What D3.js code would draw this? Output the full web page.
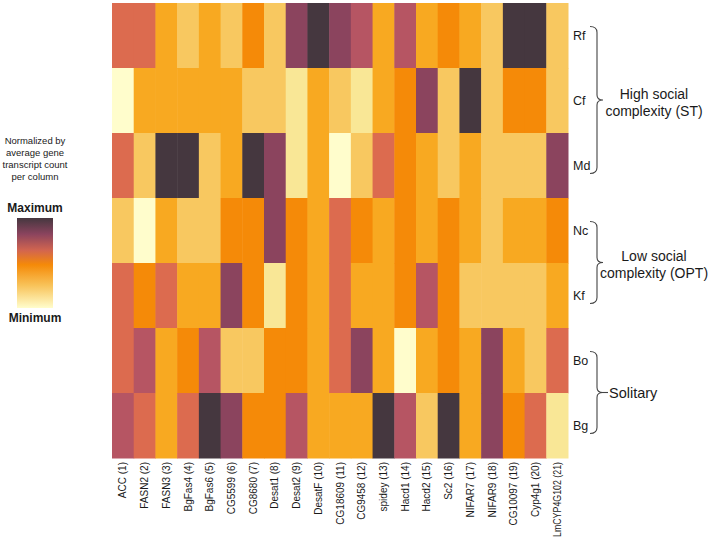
<!DOCTYPE html>
<html>
<head>
<meta charset="utf-8">
<script src="https://cdn.jsdelivr.net/npm/d3@7"></script>
<style>
  body { margin: 0; background: #fff; }
  svg { font-family: "Liberation Sans", Arial, sans-serif; }
</style>
</head>
<body>
<svg id="chart"></svg>
<script>
// genes along the bottom, species down the side
const genes = ["ACC (1)", "FASN2 (2)", "FASN3 (3)", "BgFas4 (4)", "BgFas6 (5)", "CG5599 (6)",
  "CG8680 (7)", "Desat1 (8)", "Desat2 (9)", "DesatF (10)", "CG18609 (11)", "CG9458 (12)",
  "spidey (13)", "Hacd1 (14)", "Hacd2 (15)", "Sc2 (16)", "NIFAR7 (17)", "NIFAR9 (18)",
  "CG10097 (19)", "Cyp4g1 (20)", "LmCYP4G102 (21)"];
const species = ["Rf", "Cf", "Md", "Nc", "Kf", "Bo", "Bg"];

// normalized level per cell, 0 = minimum ... 8 = maximum (one row per species)
const levels = [
  [5, 5, 3, 2, 3, 2, 4, 2, 7, 8, 7, 6, 3, 6, 3, 4, 3, 2, 8, 8, 2],
  [0, 3, 3, 3, 3, 3, 2, 2, 1, 3, 2, 1, 3, 4, 7, 2, 8, 2, 4, 4, 2],
  [5, 2, 8, 8, 2, 3, 8, 7, 1, 3, 0, 2, 5, 4, 3, 2, 3, 2, 2, 2, 7],
  [2, 0, 3, 2, 2, 4, 4, 7, 4, 3, 5, 4, 3, 4, 3, 4, 3, 2, 3, 3, 4],
  [5, 4, 5, 3, 3, 7, 4, 1, 4, 3, 5, 3, 3, 4, 6, 4, 2, 2, 2, 2, 3],
  [5, 6, 3, 4, 6, 2, 2, 4, 4, 3, 5, 7, 3, 0, 3, 4, 3, 7, 3, 2, 5],
  [6, 5, 3, 5, 8, 7, 4, 4, 6, 3, 3, 3, 8, 6, 2, 8, 3, 7, 4, 5, 1]
];

// species groups shown with braces on the right
const groups = [
  {lines: ["High social", "complexity (ST)"], from: "Rf", to: "Md"},
  {lines: ["Low social", "complexity (OPT)"], from: "Nc", to: "Kf"},
  {lines: ["Solitary"], from: "Bo", to: "Bg"}
];

const legendNote = ["Normalized by", "average gene", "transcript count", "per column"];

class Heatmap {
  constructor(_config) {
    this.config = {
      parentElement: _config.parentElement,
      containerWidth: 709,
      containerHeight: 540,
      margin: {top: 3, right: 141, bottom: 82, left: 112}
    };
    this.initVis();
  }

  initVis() {
    let vis = this;
    vis.width = vis.config.containerWidth - vis.config.margin.left - vis.config.margin.right;
    vis.height = vis.config.containerHeight - vis.config.margin.top - vis.config.margin.bottom;

    vis.svg = d3.select(vis.config.parentElement)
      .attr("width", vis.config.containerWidth)
      .attr("height", vis.config.containerHeight);

    vis.chart = vis.svg.append("g")
      .attr("transform", `translate(${vis.config.margin.left},${vis.config.margin.top})`);

    vis.xScale = d3.scaleBand().domain(genes).range([0, vis.width]);
    vis.yScale = d3.scaleBand().domain(species).range([0, vis.height]);

    vis.colorScale = d3.scaleOrdinal()
      .domain(d3.range(9))
      .range(["#fffdcc", "#f9e796", "#f8c860", "#f8a921", "#f58a08",
              "#dc6b4f", "#b65563", "#8b445e", "#45373f"]);

    vis.renderVis();
  }

  renderVis() {
    let vis = this;

    const cells = [];
    species.forEach((s, i) => genes.forEach((g, j) => cells.push({s, g, v: levels[i][j]})));

    vis.chart.selectAll("rect.cell")
      .data(cells)
      .join("rect")
      .attr("class", "cell")
      .attr("x", d => vis.xScale(d.g))
      .attr("y", d => vis.yScale(d.s))
      .attr("width", vis.xScale.bandwidth() + 0.5)
      .attr("height", vis.yScale.bandwidth() + 0.5)
      .attr("fill", d => vis.colorScale(d.v));

    // gene labels
    const xAxis = d3.axisBottom(vis.xScale).tickSize(0).tickPadding(0);
    const xg = vis.chart.append("g")
      .attr("transform", `translate(0,${vis.height})`)
      .call(xAxis);
    xg.select(".domain").remove();
    xg.selectAll("text")
      .attr("transform", "rotate(-90)")
      .attr("x", -4)
      .attr("y", 0)
      .attr("dy", "0.35em")
      .attr("text-anchor", "end")
      .attr("font-size", 10)
      .attr("font-family", "Liberation Sans, Arial, sans-serif")
      .attr("fill", "#1a1a1a")
      .each(function() {
        // squeeze the longest label so it fits above the bottom edge
        if (this.getComputedTextLength() > 75) {
          d3.select(this).attr("textLength", 75).attr("lengthAdjust", "spacingAndGlyphs");
        }
      });

    // species labels
    const yAxis = d3.axisRight(vis.yScale).tickSize(0).tickPadding(5);
    const yg = vis.chart.append("g")
      .attr("transform", `translate(${vis.width},0)`)
      .call(yAxis);
    yg.select(".domain").remove();
    yg.selectAll("text")
      .attr("font-size", 12.5)
      .attr("font-family", "Liberation Sans, Arial, sans-serif")
      .attr("fill", "#1a1a1a");

    // braces
    const braceX = vis.width + 29;
    groups.forEach(gr => {
      const y0 = vis.yScale(gr.from) + vis.yScale.bandwidth() / 2 - 9;
      const y1 = vis.yScale(gr.to) + vis.yScale.bandwidth() / 2 + 8;
      const ym = (y0 + y1) / 2;
      const bx = braceX, hx = bx - 7, tx = bx + 6;
      const path = `M${hx},${y0} Q${bx},${y0} ${bx},${y0 + 6} L${bx},${ym - 5} Q${bx},${ym} ${tx},${ym}`
        + ` Q${bx},${ym} ${bx},${ym + 5} L${bx},${y1 - 6} Q${bx},${y1} ${hx},${y1}`;
      vis.chart.append("path")
        .attr("d", path)
        .attr("fill", "none")
        .attr("stroke", "#444")
        .attr("stroke-width", 1.1);

      if (gr.lines.length === 1) {
        vis.chart.append("line")
          .attr("x1", tx).attr("x2", tx + 5)
          .attr("y1", ym).attr("y2", ym)
          .attr("stroke", "#444").attr("stroke-width", 1.1);
        vis.chart.append("text")
          .attr("x", tx + 6)
          .attr("y", ym)
          .attr("dy", "0.35em")
          .attr("font-size", 14.5)
          .attr("fill", "#1a1a1a")
          .text(gr.lines[0]);
      } else {
        const t = vis.chart.append("text")
          .attr("text-anchor", "middle")
          .attr("font-size", 14)
          .attr("fill", "#1a1a1a");
        gr.lines.forEach((l, k) => {
          t.append("tspan")
            .attr("x", vis.width + 86)
            .attr("y", ym - 6 + k * 17)
            .attr("dy", "0.35em")
            .text(l);
        });
      }
    });

    // legend
    const defs = vis.svg.append("defs");
    const grad = defs.append("linearGradient")
      .attr("id", "legendGrad")
      .attr("x1", 0).attr("x2", 0).attr("y1", 0).attr("y2", 1);
    [[0, "#45373f"], [0.18, "#8b445e"], [0.36, "#d2654f"], [0.52, "#f58a08"],
     [0.75, "#f8c35a"], [1, "#fffdcc"]].forEach(s => {
      grad.append("stop").attr("offset", s[0]).attr("stop-color", s[1]);
    });

    const legend = vis.svg.append("g");
    legend.append("text")
      .attr("text-anchor", "middle")
      .attr("font-size", 9.5)
      .attr("fill", "#1a1a1a")
      .selectAll("tspan")
      .data(legendNote)
      .join("tspan")
      .attr("x", 35)
      .attr("y", (d, i) => 141 + i * 12)
      .attr("dy", "0.35em")
      .text(d => d);

    legend.append("text")
      .attr("x", 35).attr("y", 208).attr("dy", "0.35em")
      .attr("text-anchor", "middle")
      .attr("font-size", 12).attr("font-weight", "bold")
      .attr("fill", "#1a1a1a")
      .text("Maximum");

    legend.append("rect")
      .attr("x", 17).attr("y", 218)
      .attr("width", 36).attr("height", 90)
      .attr("fill", "url(#legendGrad)");

    legend.append("text")
      .attr("x", 35).attr("y", 318).attr("dy", "0.35em")
      .attr("text-anchor", "middle")
      .attr("font-size", 12).attr("font-weight", "bold")
      .attr("fill", "#1a1a1a")
      .text("Minimum");
  }
}

new Heatmap({parentElement: "#chart"});
</script>
</body>
</html>
